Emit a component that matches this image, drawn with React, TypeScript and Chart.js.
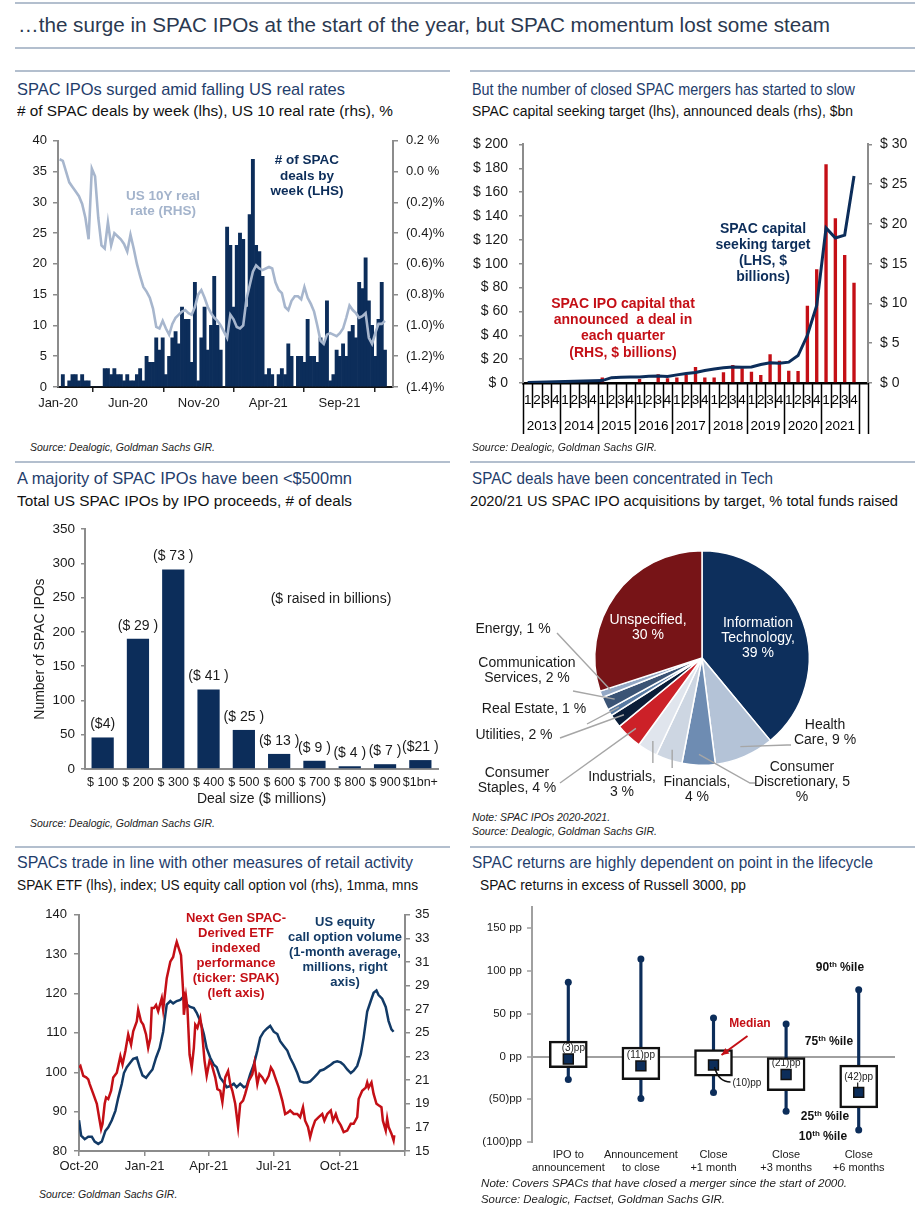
import React, { useEffect, useLayoutEffect, useRef } from 'react';
import { Chart, registerables } from 'chart.js';

Chart.register(...registerables);

const FONT = "'Liberation Sans', Arial, Helvetica, sans-serif";
Chart.defaults.font.family = FONT;
Chart.defaults.font.size = 13;
Chart.defaults.color = '#1a1a1a';

const NAVY = '#0c2d5a';
const RED = '#c40f16';
const LIGHT_LINE = '#a7b6cd';
const AXIS_GREY = '#8c8c8c';
const RULE = '#b3bfce';
const TITLE_BLUE = '#1f3d6b';

// ---------------- Chart 1: SPAC deals by week & US 10Y real rate ----------------
const spacDealsPerWeek = [
  0, 2, 0, 1, 2, 2, 1, 2, 1, 1,
  0, 0, 0, 0,
  3, 3, 2, 3, 2, 2, 1, 2, 1, 1, 2, 3, 1,
  5, 4, 4, 8, 6, 8, 2, 5, 8, 9, 7, 13, 11, 11, 4, 17, 1, 8, 13, 6, 10, 18, 10, 6, 0,
  26, 23, 13, 23, 25, 24, 13, 28, 37, 23, 22, 18, 2, 3, 2, 0,
  2, 3, 2, 7, 5, 0, 5, 5, 4, 11, 5, 5, 4, 8, 7, 14, 1, 2, 6, 5, 7, 5, 9, 10, 8, 17, 16, 21, 14, 10, 5, 11, 17, 6,
];
const usRealRate = [
  0.08, 0.07, 0.0, -0.07, -0.1, -0.13, -0.16, -0.21, -0.3, -0.44,
  0.02, -0.03, -0.3, -0.48, -0.5, -0.33, -0.48, -0.4, -0.42, -0.44,
  -0.47, -0.52, -0.41, -0.5, -0.6, -0.68, -0.75, -0.78, -0.82, -0.89,
  -1.01, -1.02, -0.97, -1.02, -1.06, -0.99, -0.95, -0.93, -0.91, -0.9,
  -0.92, -0.93, -0.88, -0.8, -0.77, -0.82, -0.88, -0.92, -0.95, -0.97,
  -1.0, -1.04, -1.08, -0.93, -0.96, -1.01, -1.02, -1.0, -0.83, -0.74,
  -0.65, -0.61, -0.63, -0.64, -0.63, -0.62, -0.63, -0.72, -0.77, -0.79,
  -0.88, -0.9, -0.84, -0.81, -0.81, -0.83, -0.75, -0.82, -0.86, -0.91,
  -1.0, -1.1, -1.12, -1.06, -1.05, -1.06, -1.07, -1.05, -1.02, -0.95,
  -0.87, -0.9, -0.92, -0.95, -0.94, -0.92, -1.08, -1.12, -1.05, -0.99,
  -0.99, -0.97,
];
const c1TickWeeks = [0, 21.7, 43.7, 65.3, 87.4];
const c1TickLabels = ['Jan-20', 'Jun-20', 'Nov-20', 'Apr-21', 'Sep-21'];

// ---------------- Chart 2: capital seeking target & announced deals ----------------
const c2Years = ['2013', '2014', '2015', '2016', '2017', '2018', '2019', '2020', '2021'];
const c2Quarters = ['1', '2', '3', '4'];
const capitalSeekingTarget = [
  0.5, 0.7, 0.9, 1.1,
  1.3, 1.5, 1.7, 1.9,
  2.0, 4.5, 4.8, 5.0,
  5.0, 5.6, 5.8, 5.5,
  6.8, 8.0, 8.8, 10.5,
  11.8, 12.8, 13.4, 13.2,
  13.5, 15.5, 17.0, 16.5,
  17.5, 23.0, 40.0, 65.0,
  130.0, 121.5, 124.0, 173.5,
];
const announcedDeals = [
  0, 0, 0, 0,
  0, 0, 0, 0,
  0.7, 0, 0, 0,
  0.5, 0, 1.1, 0.6,
  0.7, 1.0, 2.0, 0.7,
  0.7, 1.35, 2.25, 1.85,
  1.4, 1.0, 3.6, 2.8,
  1.55, 1.5, 9.7, 14.3,
  27.5, 20.7, 16.1, 12.6,
];

// ---------------- Chart 3: SPAC IPOs by deal size ----------------
const c3DealSizes = ['$ 100', '$ 200', '$ 300', '$ 400', '$ 500', '$ 600', '$ 700', '$ 800', '$ 900', '$1bn+'];
const c3NumberOfIpos = [46, 190, 291, 116, 57, 22, 12, 4, 7, 13];
const c3RaisedLabels = ['($4)', '($ 29 )', '($ 73 )', '($ 41 )', '($ 25 )', '($ 13 )', '($ 9 )', '($ 4 )', '($ 7 )', '($21 )'];

// ---------------- Chart 4: acquisitions by target ----------------
const pieSectors = [
  'Information Technology', 'Health Care', 'Consumer Discretionary', 'Financials', 'Industrials',
  'Consumer Staples', 'Utilities', 'Real Estate', 'Communication Services', 'Energy', 'Unspecified',
];
const pieShares = [39, 9, 5, 4, 3, 4, 2, 1, 2, 1, 30];
const pieColors = [
  '#0d2f5c', '#b4c3d7', '#6e8cb2', '#cdd6e2', '#e0e5ed',
  '#cc2128', '#0a1d38', '#587aa2', '#3b5475', '#93a8c5', '#771417',
];

// ---------------- Chart 5: SPAK ETF & call option volume ----------------
const spakDays = [
  0, 2, 6, 10, 13, 15, 20, 25, 29, 31, 33, 36, 38, 41, 45, 48, 53, 58, 61, 65,
  69, 73, 76, 81, 83, 87, 90, 94, 97, 100, 102, 105, 108, 111, 116, 118, 123, 128, 132, 135,
  137, 140, 143, 146, 147, 150, 152, 155, 158, 161, 163, 166, 170, 172, 176, 179, 183, 186, 191, 194,
  198, 201, 205, 209, 212, 215, 219, 223, 226, 230, 233, 238, 243, 246, 250, 253, 257, 261, 266, 269,
  272, 275, 280, 285, 289, 293, 296, 301, 306, 310, 314, 317, 321, 324, 327, 331, 336, 341, 344, 348,
  353, 356, 360, 363, 367, 371, 376, 381, 385, 390, 392, 397, 402, 404, 406, 410, 413, 417, 420, 424,
  426, 430, 432, 434, 438, 441, 442,
];
const spakIndex = [
  101.2, 101.6, 99.1, 98.7, 98.2, 97, 94.5, 92, 87.7, 85.6, 86.9, 92, 93.6, 93.2, 95.3, 98.7, 99.9, 104.1, 102, 105.4,
  109.6, 107, 110.4, 112.9, 115.9, 112.9, 112.1, 109.6, 106.2, 108.7, 116.3, 116.3, 117.1, 115.5, 118.8, 115.9, 123.9, 128.1, 129.3, 131.8,
  133.1, 131.4, 129.7, 120.5, 114.6, 119.2, 116.3, 104.5, 101.2, 106.2, 112.1, 111.3, 113.8, 111.3, 102.9, 99.1, 102.9, 102, 98.7, 95.7,
  95.3, 92.4, 98.7, 100.3, 97, 95.3, 92, 86.1, 92, 92.8, 94.5, 97.8, 99.5, 102.4, 97, 99.5, 98.7, 97.4, 99.1, 101.2,
  100.3, 98.7, 96.1, 92.8, 89.4, 89.8, 90.3, 89.4, 89.4, 88.6, 91.1, 87.7, 86.1, 83.5, 85.6, 87.7, 88.6, 89.4, 87.7, 89.4,
  90.3, 87.7, 89.4, 87.7, 86.5, 84.8, 85.2, 86.9, 86.9, 88.6, 93.2, 95.3, 96.1, 97.4, 96.1, 97.4, 94.5, 92, 91.6, 91.1,
  87.7, 85.2, 88.2, 86.1, 84.4, 82.7, 84,
];
const callDays = [
  0, 3, 8, 13, 18, 22, 27, 32, 37, 41, 46, 51, 55, 60, 63, 67, 72, 76, 81, 85,
  89, 94, 99, 103, 108, 113, 118, 121, 123, 128, 132, 137, 142, 147, 151, 156, 161, 165, 170, 175,
  179, 184, 189, 193, 198, 203, 207, 212, 217, 221, 226, 231, 235, 240, 245, 250, 254, 259, 264, 268,
  273, 278, 282, 287, 292, 296, 301, 306, 310, 315, 320, 324, 329, 334, 338, 343, 348, 353, 357, 362,
  367, 371, 376, 381, 385, 390, 395, 399, 404, 409, 413, 417, 420, 425, 430, 434, 438, 441,
];
const callVolume = [
  17.6, 16.3, 16.0, 16.2, 16.2, 15.8, 15.6, 15.8, 16.7, 17.0, 17.6, 18.4, 19.5, 20.7, 21.6, 22.1, 22.5, 22.8, 22.9, 22.1,
  21.4, 21.2, 21.6, 21.9, 22.9, 23.7, 25.1, 26.5, 27.4, 27.7, 27.5, 27.7, 27.8, 28.1, 27.4, 27.2, 27.1, 26.7, 26.0, 24.9,
  23.7, 22.9, 22.3, 22.1, 21.2, 20.8, 20.4, 20.5, 20.7, 20.4, 20.7, 20.4, 20.5, 21.5, 22.3, 23.5, 24.6, 25.1, 25.4, 25.6,
  25.1, 24.9, 24.3, 23.9, 23.5, 22.9, 22.3, 21.6, 20.9, 20.8, 20.8, 20.9, 21.2, 21.5, 21.8, 21.9, 22.1, 22.3, 22.5, 22.6,
  22.5, 22.3, 21.9, 21.6, 21.8, 22.2, 23.2, 24.6, 26.8, 27.7, 28.4, 28.6, 28.2, 27.9, 27.2, 26.0, 25.3, 25.1,
];
const c5TickDays = [0, 92, 182, 273, 365, 457];
const c5TickLabels = ['Oct-20', 'Jan-21', 'Apr-21', 'Jul-21', 'Oct-21', ''];

// ---------------- Chart 6: SPAC returns by lifecycle ----------------
const c6Stages = [
  ['IPO to', 'announcement'],
  ['Announcement', 'to close'],
  ['Close', '+1 month'],
  ['Close', '+3 months'],
  ['Close', '+6 months'],
];
const c6P90 = [87, 114, 45, 38, 78];
const c6P75 = [18, 11, 8, 0, -10];
const c6Median = [-3, -11, -10, -21, -42];
const c6P25 = [-13, -27, -23, -40, -60];
const c6P10 = [-27, -49, -42, -64, -86];

// ---------------- formatters ----------------
const fmtRate = (v: number) => {
  const r = Math.round(v * 10) / 10;
  return r < 0 ? `(${Math.abs(r).toFixed(1)})%` : `${Math.abs(r).toFixed(1)} %`;
};
const fmtDollar = (v: number) => `$ ${v}`;
const fmtPP = (v: number) => (v < 0 ? `(${-v})pp` : `${v} pp`);
const fmtMedian = (v: number) => (v < 0 ? `(${-v})pp` : `${v}pp`);

const baseOptions = {
  responsive: false,
  animation: false,
  plugins: { legend: { display: false }, tooltip: { enabled: false } },
};

// ---------------- chart configs ----------------
function chart1Config(): any {
  return {
    type: 'bar',
    data: {
      datasets: [
        {
          type: 'line', label: 'US 10Y real rate (RHS)',
          data: usRealRate.map((v, i) => ({ x: i + 0.5, y: v })),
          yAxisID: 'y1', borderColor: LIGHT_LINE, borderWidth: 2.6, pointRadius: 0, tension: 0, order: 0,
        },
        {
          type: 'bar', label: '# of SPAC deals by week (LHS)',
          data: spacDealsPerWeek.map((v, i) => ({ x: i + 0.5, y: v })),
          yAxisID: 'y', backgroundColor: NAVY, barPercentage: 1, categoryPercentage: 1, order: 1,
        },
      ],
    },
    options: {
      ...baseOptions,
      layout: { padding: { top: 10, left: 0, right: 0, bottom: 0 } },
      scales: {
        x: {
          type: 'linear', min: 0, max: 104, offset: false,
          afterBuildTicks: (s: any) => { s.ticks = c1TickWeeks.map((v) => ({ value: v })); },
          afterFit: (s: any) => { s.height = 33; },
          ticks: { autoSkip: false, maxRotation: 0, padding: 4, font: { size: 13 }, color: '#1a1a1a',
            callback: (_v: any, i: number) => c1TickLabels[i] },
          grid: { drawOnChartArea: false, drawTicks: true, tickLength: 5, color: '#222', lineWidth: 1.5 },
          border: { color: '#111', width: 2 },
        },
        y: {
          position: 'left', min: 0, max: 40,
          ticks: { stepSize: 5, padding: 6, font: { size: 13 }, color: '#1a1a1a' },
          grid: { drawOnChartArea: false, tickLength: 5, color: AXIS_GREY, lineWidth: 1.5 },
          border: { color: AXIS_GREY, width: 2 },
          afterFit: (s: any) => { s.width = 43; },
        },
        y1: {
          position: 'right', min: -1.4, max: 0.2,
          ticks: { stepSize: 0.2, padding: 8, font: { size: 13 }, color: '#1a1a1a', callback: (v: any) => fmtRate(Number(v)) },
          grid: { drawOnChartArea: false, tickLength: 5, color: AXIS_GREY, lineWidth: 1.5 },
          border: { color: AXIS_GREY, width: 2 },
          afterFit: (s: any) => { s.width = 52; },
        },
      },
    },
  };
}

const c2AxisPlugin = {
  id: 'c2MultiLevelAxis',
  afterDraw(chart: any) {
    const xs = chart.scales.x;
    const ctx = chart.ctx;
    const n = chart.data.labels.length;
    const slot = (xs.right - xs.left) / n;
    const y0 = xs.top;
    ctx.save();
    ctx.strokeStyle = '#000';
    ctx.lineWidth = 1.5;
    for (let b = 0; b <= n; b++) {
      const px = Math.round(xs.left + b * slot) + 0.5;
      const long = b % 4 === 0 || b === n;
      ctx.beginPath();
      ctx.moveTo(px, y0);
      ctx.lineTo(px, y0 + (long ? 51 : 25));
      ctx.stroke();
    }
    ctx.fillStyle = '#000';
    ctx.font = `13.5px ${FONT}`;
    ctx.textAlign = 'center';
    ctx.textBaseline = 'middle';
    c2Years.forEach((yr, k) => ctx.fillText(yr, xs.left + (4 * k + 2) * slot, y0 + 43));
    ctx.restore();
  },
};

function chart2Config(): any {
  const labels = [...c2Years.flatMap(() => c2Quarters), ''];
  return {
    type: 'bar',
    data: {
      labels,
      datasets: [
        {
          type: 'line', label: 'SPAC capital seeking target (LHS)',
          data: [...capitalSeekingTarget, null], yAxisID: 'y',
          borderColor: NAVY, borderWidth: 3, pointRadius: 0, tension: 0, order: 0,
        },
        {
          type: 'bar', label: 'SPAC IPO capital that announced a deal (RHS)',
          data: [...announcedDeals, null], yAxisID: 'y1',
          backgroundColor: RED, barPercentage: 0.36, categoryPercentage: 1, order: 1,
        },
      ],
    },
    options: {
      ...baseOptions,
      layout: { padding: { top: 14, left: 0, right: 0, bottom: 0 } },
      scales: {
        x: {
          ticks: { autoSkip: false, maxRotation: 0, padding: 9, font: { size: 13.5 }, color: '#000' },
          grid: { display: false, drawTicks: false },
          border: { color: '#000', width: 2.5 },
          afterFit: (s: any) => { s.height = 62; },
        },
        y: {
          position: 'left', min: 0, max: 200,
          ticks: { stepSize: 20, padding: 11, font: { size: 14 }, color: '#1a1a1a', callback: (v: any) => fmtDollar(Number(v)) },
          grid: { drawOnChartArea: false, tickLength: 4, color: AXIS_GREY, lineWidth: 1.5 },
          border: { color: AXIS_GREY, width: 2 },
          afterFit: (s: any) => { s.width = 53; },
        },
        y1: {
          position: 'right', min: 0, max: 30,
          ticks: { stepSize: 5, padding: 8, font: { size: 14 }, color: '#1a1a1a', callback: (v: any) => fmtDollar(Number(v)) },
          grid: { drawOnChartArea: false, tickLength: 4, color: AXIS_GREY, lineWidth: 1.5 },
          border: { color: AXIS_GREY, width: 2 },
          afterFit: (s: any) => { s.width = 47; },
        },
      },
    },
    plugins: [c2AxisPlugin],
  };
}

const c3LabelPlugin = {
  id: 'c3RaisedLabels',
  afterDatasetsDraw(chart: any) {
    const meta = chart.getDatasetMeta(0);
    const ctx = chart.ctx;
    ctx.save();
    ctx.font = `14px ${FONT}`;
    ctx.fillStyle = '#1a1a1a';
    ctx.textAlign = 'center';
    ctx.textBaseline = 'middle';
    meta.data.forEach((bar: any, i: number) => ctx.fillText(c3RaisedLabels[i], bar.x, bar.y - 13));
    ctx.restore();
  },
};

function chart3Config(): any {
  return {
    type: 'bar',
    data: {
      labels: c3DealSizes,
      datasets: [{ label: 'Number of SPAC IPOs', data: c3NumberOfIpos, backgroundColor: NAVY, barPercentage: 0.63, categoryPercentage: 1 }],
    },
    options: {
      ...baseOptions,
      layout: { padding: { top: 12, left: 14, right: 12, bottom: 3 } },
      scales: {
        x: {
          ticks: { autoSkip: false, maxRotation: 0, padding: 6.5, font: { size: 12.5 }, color: '#1a1a1a' },
          grid: { display: false, drawTicks: false },
          border: { color: AXIS_GREY, width: 2 },
          title: { display: true, text: 'Deal size ($ millions)', font: { size: 14 }, color: '#1a1a1a', padding: { top: 0, bottom: 4 } },
          afterFit: (s: any) => { s.height = 43; },
        },
        y: {
          min: 0, max: 350,
          ticks: { stepSize: 50, padding: 6, font: { size: 13.5 }, color: '#1a1a1a' },
          grid: { drawOnChartArea: false, tickLength: 4, color: AXIS_GREY, lineWidth: 1.5 },
          border: { color: AXIS_GREY, width: 2 },
          title: { display: true, text: 'Number of SPAC IPOs', font: { size: 14 }, color: '#1a1a1a', padding: { top: 3, bottom: 0 } },
          afterFit: (s: any) => { s.width = 56; },
        },
      },
    },
    plugins: [c3LabelPlugin],
  };
}

const PIE_X = 470;
const PIE_Y = 520;
// Leader-line layout (page coordinates), keyed by slice index
const pieLeaders: { i: number; pts?: number[][]; vertical?: number }[] = [
  { i: 1, pts: [[787, 745], [791, 745]] },
  { i: 2, pts: [[750, 783], [755, 783]] },
  { i: 3, vertical: 768 },
  { i: 4, vertical: 763 },
  { i: 5, pts: [[560, 783]] },
  { i: 6, pts: [[560, 738]] },
  { i: 7, pts: [[587, 724]] },
  { i: 8, pts: [[573, 691]] },
  { i: 9, pts: [[557, 633]] },
];

const pieLeaderPlugin = {
  id: 'pieLeaders',
  afterDraw(chart: any) {
    const meta = chart.getDatasetMeta(0);
    const ctx = chart.ctx;
    ctx.save();
    ctx.strokeStyle = '#a6a6a6';
    ctx.lineWidth = 1.4;
    pieLeaders.forEach((L) => {
      const arc = meta.data[L.i];
      if (!arc) return;
      const p = arc.getProps(['x', 'y', 'startAngle', 'endAngle', 'outerRadius'], true);
      const mid = (p.startAngle + p.endAngle) / 2;
      const r = p.outerRadius * 0.9;
      const sx = p.x + Math.cos(mid) * r;
      const sy = p.y + Math.sin(mid) * r;
      ctx.beginPath();
      ctx.moveTo(sx, sy);
      if (L.vertical !== undefined) ctx.lineTo(sx, L.vertical - PIE_Y);
      else (L.pts || []).forEach(([qx, qy]) => ctx.lineTo(qx - PIE_X, qy - PIE_Y));
      ctx.stroke();
    });
    ctx.restore();
  },
};

function chart4Config(): any {
  return {
    type: 'pie',
    data: {
      labels: pieSectors,
      datasets: [{ data: pieShares, backgroundColor: pieColors, borderColor: '#ffffff', borderWidth: 1.5 }],
    },
    options: {
      ...baseOptions,
      layout: { padding: { left: 124, right: 105, top: 30, bottom: 44 } },
    },
    plugins: [pieLeaderPlugin],
  };
}

function chart5Config(): any {
  return {
    type: 'line',
    data: {
      datasets: [
        {
          label: 'SPAK (left axis)', data: spakDays.map((d, i) => ({ x: d, y: spakIndex[i] })),
          yAxisID: 'y', borderColor: RED, borderWidth: 2.5, pointRadius: 0, tension: 0, order: 0,
        },
        {
          label: 'US equity call option volume (right axis)', data: callDays.map((d, i) => ({ x: d, y: callVolume[i] })),
          yAxisID: 'y1', borderColor: '#123a66', borderWidth: 2.5, pointRadius: 0, tension: 0, order: 1,
        },
      ],
    },
    options: {
      ...baseOptions,
      layout: { padding: { top: 13, left: 0, right: 0, bottom: 0 } },
      scales: {
        x: {
          type: 'linear', min: 0, max: 457,
          afterBuildTicks: (s: any) => { s.ticks = c5TickDays.map((v) => ({ value: v })); },
          afterFit: (s: any) => { s.height = 29; },
          ticks: { autoSkip: false, maxRotation: 0, padding: 3, font: { size: 13 }, color: '#1a1a1a',
            callback: (_v: any, i: number) => c5TickLabels[i] },
          grid: { drawOnChartArea: false, tickLength: 5, color: AXIS_GREY, lineWidth: 1.5 },
          border: { color: AXIS_GREY, width: 2 },
        },
        y: {
          position: 'left', min: 80, max: 140,
          ticks: { stepSize: 10, padding: 7, font: { size: 13 }, color: '#1a1a1a' },
          grid: { drawOnChartArea: false, tickLength: 5, color: AXIS_GREY, lineWidth: 1.5 },
          border: { color: AXIS_GREY, width: 2 },
          afterFit: (s: any) => { s.width = 64; },
        },
        y1: {
          position: 'right', min: 15, max: 35,
          ticks: { stepSize: 2, padding: 5, font: { size: 13 }, color: '#1a1a1a' },
          grid: { drawOnChartArea: false, tickLength: 5, color: AXIS_GREY, lineWidth: 1.5 },
          border: { color: AXIS_GREY, width: 2 },
          afterFit: (s: any) => { s.width = 45; },
        },
      },
    },
  };
}

const c6NotesPlugin = {
  id: 'c6Notes',
  afterDatasetsDraw(chart: any) {
    const ctx = chart.ctx;
    const meta = chart.getDatasetMeta(0);
    ctx.save();
    ctx.font = `10px ${FONT}`;
    ctx.fillStyle = '#222';
    ctx.textBaseline = 'middle';
    meta.data.forEach((pt: any, i: number) => {
      const txt = fmtMedian(c6Median[i]);
      if (i === 2) {
        ctx.strokeStyle = '#111';
        ctx.lineWidth = 1.5;
        ctx.beginPath();
        ctx.moveTo(pt.x + 1, pt.y + 2);
        ctx.quadraticCurveTo(pt.x + 5, pt.y + 17, pt.x + 17, pt.y + 17);
        ctx.stroke();
        ctx.textAlign = 'left';
        ctx.fillText(txt, pt.x + 19, pt.y + 18);
      } else {
        ctx.textAlign = 'center';
        const dy = i === 4 ? -15 : -11;
        ctx.fillText(txt, pt.x + (i === 0 ? 5 : 0), pt.y + dy);
        if (i === 4) {
          ctx.strokeStyle = '#111';
          ctx.lineWidth = 1.2;
          ctx.beginPath();
          ctx.moveTo(pt.x - 1, pt.y - 10);
          ctx.lineTo(pt.x - 1, pt.y - 4);
          ctx.stroke();
        }
      }
    });
    const m = meta.data[2];
    if (m) {
      const sx = m.x + 34, sy = m.y - 29, ex = m.x + 8, ey = m.y - 10;
      ctx.strokeStyle = RED;
      ctx.fillStyle = RED;
      ctx.lineWidth = 2;
      ctx.beginPath();
      ctx.moveTo(sx, sy);
      ctx.lineTo(ex, ey);
      ctx.stroke();
      const ang = Math.atan2(ey - sy, ex - sx);
      const L = 8;
      ctx.beginPath();
      ctx.moveTo(ex, ey);
      ctx.lineTo(ex - L * Math.cos(ang - 0.45), ey - L * Math.sin(ang - 0.45));
      ctx.lineTo(ex - L * Math.cos(ang + 0.45), ey - L * Math.sin(ang + 0.45));
      ctx.closePath();
      ctx.fill();
    }
    ctx.restore();
  },
};

function chart6Config(): any {
  return {
    type: 'bar',
    data: {
      labels: c6Stages,
      datasets: [
        {
          type: 'line', label: 'Median', data: c6Median, showLine: false, pointStyle: 'rect', pointRadius: 7,
          pointBackgroundColor: NAVY, pointBorderColor: '#111', pointBorderWidth: 1.5, order: 0,
        },
        {
          type: 'bar', label: '25th-75th %ile', data: c6P25.map((v, i) => [v, c6P75[i]]),
          backgroundColor: '#ffffff', borderColor: '#111', borderWidth: 2.5, borderSkipped: false,
          barThickness: 38, grouped: false, order: 1,
        },
        {
          type: 'line', label: '90th %ile', data: c6P90, showLine: false, pointRadius: 3.5,
          pointBackgroundColor: NAVY, pointBorderWidth: 0, order: 2,
        },
        {
          type: 'line', label: '10th %ile', data: c6P10, showLine: false, pointRadius: 3.5,
          pointBackgroundColor: NAVY, pointBorderWidth: 0, order: 2,
        },
        {
          type: 'bar', label: '10th-90th %ile', data: c6P10.map((v, i) => [v, c6P90[i]]),
          backgroundColor: NAVY, barThickness: 2.5, grouped: false, order: 3,
        },
      ],
    },
    options: {
      ...baseOptions,
      layout: { padding: { top: 8, left: 0, right: 20, bottom: 0 } },
      scales: {
        x: {
          ticks: { autoSkip: false, maxRotation: 0, padding: 6, font: { size: 11, lineHeight: 1.18 }, color: '#1a1a1a' },
          grid: { display: false, drawTicks: false },
          border: { display: false },
          afterFit: (s: any) => { s.height = 38; },
        },
        y: {
          min: -100, max: 175,
          ticks: { stepSize: 50, includeBounds: false, padding: 5, font: { size: 11.5 }, color: '#1a1a1a',
            callback: (v: any) => fmtPP(Number(v)) },
          grid: {
            drawOnChartArea: true, tickLength: 5, lineWidth: 2, tickColor: '#a0a0a0', tickWidth: 1.5,
            color: (c: any) => (c.tick && c.tick.value === 0 ? '#a0a0a0' : 'rgba(0,0,0,0)'),
          },
          border: { color: '#a0a0a0', width: 2 },
          afterFit: (s: any) => { s.width = 62; },
        },
      },
    },
    plugins: [c6NotesPlugin],
  };
}

// ---------------- React helpers ----------------
function ChartBox({ x, y, w, h, config }: { x: number; y: number; w: number; h: number; config: () => any }) {
  const ref = useRef<HTMLCanvasElement | null>(null);
  useEffect(() => {
    if (!ref.current) return;
    const chart = new Chart(ref.current, config());
    return () => chart.destroy();
  }, []);
  return (
    <div style={{ position: 'absolute', left: x, top: y, width: w, height: h }}>
      <canvas ref={ref} width={w} height={h} style={{ width: w, height: h, display: 'block' }} />
    </div>
  );
}

type TBProps = {
  x: number; y: number; lines: React.ReactNode[]; size?: number; bold?: boolean; italic?: boolean;
  color?: string; lh?: number; align?: 'left' | 'center';
};
function TextBlock({ x, y, lines, size = 13, bold = false, italic = false, color = '#1a1a1a', lh, align = 'center' }: TBProps) {
  const lineH = lh ?? Math.round(size * 1.15);
  return (
    <div
      style={{
        position: 'absolute', left: x, top: y - lineH / 2,
        transform: align === 'center' ? 'translateX(-50%)' : undefined,
        textAlign: align, fontFamily: FONT, fontSize: size, fontWeight: bold ? 700 : 400,
        fontStyle: italic ? 'italic' : 'normal', color, lineHeight: `${lineH}px`, whiteSpace: 'pre',
      }}
    >
      {lines.map((l, i) => <div key={i}>{l}</div>)}
    </div>
  );
}

// Left-aligned single line that is horizontally fitted to end at x2 (mimics the narrow report font)
function FitLine({ x, x2, y, text, size, color = '#111', italic = false }: {
  x: number; x2: number; y: number; text: string; size: number; color?: string; italic?: boolean;
}) {
  const ref = useRef<HTMLDivElement | null>(null);
  useLayoutEffect(() => {
    const fit = () => {
      const el = ref.current;
      if (!el) return;
      el.style.transform = 'none';
      const w = el.getBoundingClientRect().width;
      if (w > 0) el.style.transform = `scaleX(${(x2 - x) / w})`;
    };
    fit();
    if ((document as any).fonts && (document as any).fonts.ready) (document as any).fonts.ready.then(fit);
  }, []);
  const lh = Math.round(size * 1.2);
  return (
    <div
      ref={ref}
      style={{
        position: 'absolute', left: x, top: y - lh / 2, transformOrigin: 'left center',
        fontFamily: FONT, fontSize: size, lineHeight: `${lh}px`, color, whiteSpace: 'pre',
        fontStyle: italic ? 'italic' : 'normal',
      }}
    >
      {text}
    </div>
  );
}

function Rule({ x, y, w }: { x: number; y: number; w: number }) {
  return <div style={{ position: 'absolute', left: x, top: y, width: w, height: 2, background: RULE }} />;
}

const pieLabelLayout: { lines: string[]; x: number; y: number; color?: string }[] = [
  { lines: ['Information', 'Technology,', '39 %'], x: 758, y: 622, color: '#ffffff' },
  { lines: ['Unspecified,', '30 %'], x: 648, y: 619, color: '#ffffff' },
  { lines: ['Health', 'Care, 9 %'], x: 825, y: 724 },
  { lines: ['Consumer', 'Discretionary, 5', '%'], x: 802, y: 766 },
  { lines: ['Financials,', '4 %'], x: 697, y: 781 },
  { lines: ['Industrials,', '3 %'], x: 622, y: 776 },
  { lines: ['Consumer', 'Staples, 4 %'], x: 517, y: 772 },
  { lines: ['Utilities, 2 %'], x: 514, y: 734 },
  { lines: ['Real Estate, 1 %'], x: 534, y: 708 },
  { lines: ['Communication', 'Services, 2 %'], x: 527, y: 662 },
  { lines: ['Energy, 1 %'], x: 513, y: 628 },
];

const pctile = (n: string, suffix: string) => (
  <span>{n}<sup style={{ fontSize: 8, verticalAlign: 'top', position: 'relative', top: -2 }}>{suffix}</sup> %ile</span>
);

export default function App() {
  useEffect(() => {
    document.body.style.margin = '0';
  }, []);
  return (
    <div style={{ position: 'absolute', left: 0, top: 0, width: 921, height: 1228, background: '#fff', overflow: 'hidden', fontFamily: FONT }}>
      <ChartBox x={15} y={125} w={430} h={295} config={chart1Config} />
      <ChartBox x={470} y={125} w={445} h={320} config={chart2Config} />
      <ChartBox x={15} y={515} w={435} h={300} config={chart3Config} />
      <ChartBox x={PIE_X} y={PIE_Y} w={445} h={290} config={chart4Config} />
      <ChartBox x={15} y={900} w={435} h={280} config={chart5Config} />
      <ChartBox x={470} y={895} w={445} h={285} config={chart6Config} />

      {/* header */}
      <Rule x={15} y={2} w={900} />
      <FitLine x={18} x2={830} y={24} size={20.5} color="#2b3950"
        text="…the surge in SPAC IPOs at the start of the year, but SPAC momentum lost some steam" />
      <Rule x={15} y={47} w={900} />

      {/* row rules */}
      <Rule x={15} y={70} w={435} />
      <Rule x={470} y={70} w={445} />
      <Rule x={15} y={461} w={435} />
      <Rule x={470} y={461} w={445} />
      <Rule x={15} y={846} w={435} />
      <Rule x={470} y={846} w={445} />

      {/* panel titles */}
      <FitLine x={17} x2={345} y={89} size={16.4} color={TITLE_BLUE} text="SPAC IPOs surged amid falling US real rates" />
      <FitLine x={17} x2={393} y={111} size={15.3} text="# of SPAC deals by week (lhs), US 10 real rate (rhs), %" />
      <FitLine x={472} x2={855} y={89} size={16.4} color={TITLE_BLUE} text="But the number of closed SPAC mergers has started to slow" />
      <FitLine x={472} x2={853} y={111} size={15.3} text="SPAC capital seeking target (lhs), announced deals (rhs), $bn" />
      <FitLine x={17} x2={352} y={478} size={16.4} color={TITLE_BLUE} text="A majority of SPAC IPOs have been <$500mn" />
      <FitLine x={17} x2={352} y={501} size={15.3} text="Total US SPAC IPOs by IPO proceeds, # of deals" />
      <FitLine x={472} x2={773} y={478} size={16.4} color={TITLE_BLUE} text="SPAC deals have been concentrated in Tech" />
      <FitLine x={470} x2={898} y={501} size={15.3} text="2020/21 US SPAC IPO acquisitions by target, % total funds raised" />
      <FitLine x={17} x2={413} y={862} size={16.4} color={TITLE_BLUE} text="SPACs trade in line with other measures of retail activity" />
      <FitLine x={17} x2={418} y={885} size={15.3} text="SPAK ETF (lhs), index; US equity call option vol (rhs), 1mma, mns" />
      <FitLine x={472} x2={873} y={862} size={16.4} color={TITLE_BLUE} text="SPAC returns are highly dependent on point in the lifecycle" />
      <FitLine x={480} x2={746} y={885} size={15.3} text="SPAC returns in excess of Russell 3000, pp" />

      {/* sources */}
      <TextBlock x={30} y={447} align="left" size={10.5} italic color="#222" lines={['Source: Dealogic, Goldman Sachs GIR.']} />
      <TextBlock x={472} y={447} align="left" size={10.5} italic color="#222" lines={['Source: Dealogic, Goldman Sachs GIR.']} />
      <TextBlock x={30} y={823} align="left" size={10.5} italic color="#222" lines={['Source: Dealogic, Goldman Sachs GIR.']} />
      <TextBlock x={472} y={817} align="left" size={10.5} italic color="#222" lh={14.5}
        lines={['Note: SPAC IPOs 2020-2021.', 'Source: Dealogic, Goldman Sachs GIR.']} />
      <TextBlock x={39} y={1194} align="left" size={10.5} italic color="#222" lines={['Source: Goldman Sachs GIR.']} />
      <FitLine x={481} x2={847} y={1183} size={11} italic color="#222"
        text="Note: Covers SPACs that have closed a merger since the start of 2000." />
      <FitLine x={481} x2={725} y={1199} size={11} italic color="#222"
        text="Source: Dealogic, Factset, Goldman Sachs GIR." />

      {/* chart 1 annotations */}
      <TextBlock x={163} y={195} size={13.5} bold color="#a4b4cc" lh={15} lines={['US 10Y real', 'rate (RHS)']} />
      <TextBlock x={307} y={160} size={13.5} bold color={NAVY} lh={15.5} lines={['# of SPAC', 'deals by', 'week (LHS)']} />

      {/* chart 2 annotations */}
      <TextBlock x={763} y={228} size={14} bold color={NAVY} lh={16} lines={['SPAC capital', 'seeking target', '(LHS, $', 'billions)']} />
      <TextBlock x={623} y={303} size={14} bold color={RED} lh={16.3}
        lines={['SPAC IPO capital that', 'announced  a deal in', 'each quarter', '(RHS, $ billions)']} />

      {/* chart 3 annotation */}
      <TextBlock x={331} y={598} size={14} lines={['($ raised in billions)']} />

      {/* chart 4 labels */}
      {pieLabelLayout.map((p, i) => (
        <TextBlock key={i} x={p.x} y={p.y} size={14} lh={15} color={p.color ?? '#1a1a1a'} lines={p.lines} />
      ))}

      {/* chart 5 annotations */}
      <TextBlock x={236} y={917} size={13} bold color={RED} lh={15}
        lines={['Next Gen SPAC-', 'Derived ETF', 'indexed', 'performance', '(ticker: SPAK)', '(left axis)']} />
      <TextBlock x={345} y={921} size={13} bold color="#123a66" lh={15}
        lines={['US equity', 'call option volume', '(1-month average,', 'millions, right', 'axis)']} />

      {/* chart 6 annotations */}
      <TextBlock x={840} y={967} size={12} bold color="#111" lines={[pctile('90', 'th')]} />
      <TextBlock x={829} y={1041} size={12} bold color="#111" lines={[pctile('75', 'th')]} />
      <TextBlock x={825} y={1116} size={12} bold color="#111" lines={[pctile('25', 'th')]} />
      <TextBlock x={823} y={1136} size={12} bold color="#111" lines={[pctile('10', 'th')]} />
      <TextBlock x={750} y={1023} size={12} bold color={RED} lines={['Median']} />
    </div>
  );
}
